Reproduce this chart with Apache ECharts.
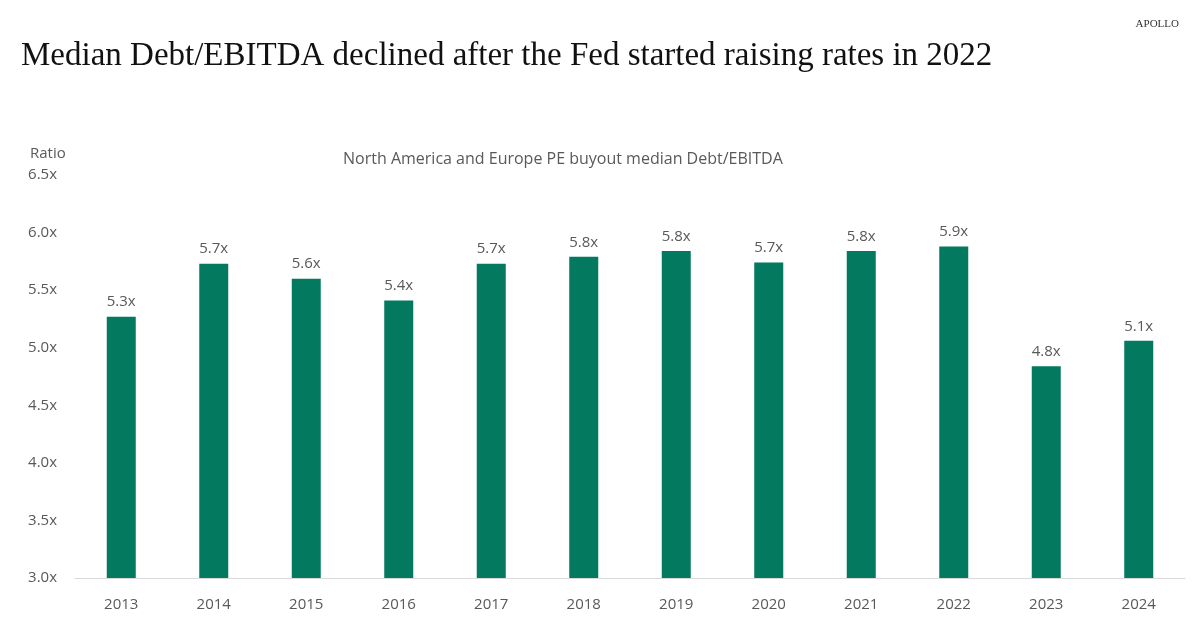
<!DOCTYPE html>
<html>
<head>
<meta charset="utf-8">
<title>Median Debt/EBITDA</title>
<script src="https://cdn.jsdelivr.net/npm/echarts@6/dist/echarts.min.js"></script>
<style>
  html, body { margin: 0; padding: 0; background: #fff; }
  #chart { width: 1200px; height: 628px; }
</style>
</head>
<body>
<div id="chart"></div>
<script>
// data
var years = ['2013', '2014', '2015', '2016', '2017', '2018', '2019', '2020', '2021', '2022', '2023', '2024'];
var debtEbitda = [5.27, 5.73, 5.60, 5.41, 5.73, 5.79, 5.84, 5.74, 5.84, 5.88, 4.84, 5.06];

var sans = '"Open Sans", "Noto Sans", sans-serif';
var gray = '#595959';

var myChart = echarts.init(document.getElementById('chart'));

var option = {
  backgroundColor: '#fff',
  animation: false,
  title: [
    {
      text: 'Median Debt/EBITDA declined after the Fed started raising rates in 2022',
      left: 16,
      top: 35,
      textStyle: { fontFamily: '"Liberation Serif", serif', fontSize: 33, fontWeight: 'normal', color: '#111' }
    },
    {
      text: 'North America and Europe PE buyout median Debt/EBITDA',
      left: 338,
      top: 146,
      textStyle: { fontFamily: sans, fontSize: 16, fontWeight: 'normal', color: gray }
    },
    {
      text: 'APOLLO',
      right: 16,
      top: 14,
      textStyle: { fontFamily: '"Liberation Serif", serif', fontSize: 11, fontWeight: 'normal', color: '#333' }
    }
  ],
  graphic: [{
    type: 'text',
    left: 30,
    top: 146,
    style: { text: 'Ratio', font: '15px ' + sans, fill: gray }
  }],
  grid: { left: 75, right: 15, top: 175, bottom: 50 },
  xAxis: {
    type: 'category',
    data: years,
    axisLine: { lineStyle: { color: '#d9d9d9' } },
    axisTick: { show: false },
    axisLabel: { color: gray, fontFamily: sans, fontSize: 15, margin: 19 }
  },
  yAxis: {
    type: 'value',
    min: 3,
    max: 6.5,
    interval: 0.5,
    splitLine: { show: false },
    axisLine: { show: false },
    axisTick: { show: false },
    axisLabel: {
      color: gray, fontFamily: sans, fontSize: 15, margin: 18,
      formatter: function (v) { return v.toFixed(1) + 'x'; }
    }
  },
  series: [{
    type: 'bar',
    data: debtEbitda,
    barWidth: 29,
    itemStyle: { color: '#037a5f' },
    label: {
      show: true,
      position: 'top',
      distance: 7,
      color: gray,
      fontFamily: sans,
      fontSize: 15,
      formatter: function (p) { return p.value.toFixed(1) + 'x'; }
    }
  }]
};

myChart.setOption(option);
</script>
</body>
</html>
